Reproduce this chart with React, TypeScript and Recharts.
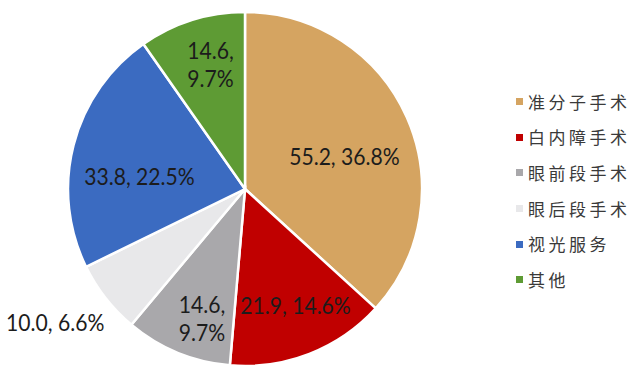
import React from 'react';
import { PieChart, Pie, Cell, Legend } from 'recharts';

const categories = ['准分子手术', '白内障手术', '眼前段手术', '眼后段手术', '视光服务', '其他'];
const values = [55.2, 21.9, 14.6, 10.0, 33.8, 14.6];
const shares = ['36.8%', '14.6%', '9.7%', '6.6%', '22.5%', '9.7%'];
const colors = ['#D5A461', '#C00000', '#A9A8AB', '#E8E8EA', '#3B6BC1', '#5E9B34'];

const data = categories.map((name, i) => ({ name, value: values[i], share: shares[i] }));

// label placement (style): radius ratio and bearing offset in degrees
const labelRadius = [0.59, 0.72, 0.77, 1.31, 0.6, 0.73];
const labelAngleOffset = [6, -2, -4, 3, -8, 2];
const twoLine = [false, false, true, false, false, true];

const RAD = Math.PI / 180;
const FONT = 'Lato, "Open Sans", sans-serif';

const renderLabel = (props: any) => {
  const { cx, cy, midAngle, outerRadius, index } = props;
  const d = data[index];
  const bearing = (90 - midAngle + labelAngleOffset[index]) * RAD;
  const r = outerRadius * labelRadius[index];
  const x = Number(cx) + r * Math.sin(bearing);
  const y = Number(cy) - r * Math.cos(bearing);
  const valueText = d.value.toFixed(1);
  const common = {
    textAnchor: 'middle' as const,
    fontFamily: FONT,
    fontSize: 24,
    fill: '#1c1c1c',
  };
  if (twoLine[index]) {
    return (
      <g transform={`translate(${x},${y}) scale(0.88,1)`}>
        <text x={0} y={-14} dy="0.35em" {...common}>{`${valueText},`}</text>
        <text x={0} y={14} dy="0.35em" {...common}>{d.share}</text>
      </g>
    );
  }
  return (
    <g transform={`translate(${x},${y}) scale(0.88,1)`}>
      <text x={0} y={0} dy="0.35em" {...common}>{`${valueText}, ${d.share}`}</text>
    </g>
  );
};

const renderLegend = () => (
  <div style={{ display: 'flex', flexDirection: 'column' }}>
    {categories.map((name, i) => (
      <div key={name} style={{ display: 'flex', alignItems: 'center', height: 35.6 }}>
        <span style={{ width: 7, height: 7, background: colors[i], display: 'inline-block', marginRight: 5 }} />
        <span
          style={{
            fontFamily: '"Noto Sans CJK SC", sans-serif',
            fontSize: 17,
            letterSpacing: 3.5,
            color: '#3a3a3a',
            lineHeight: '20px',
          }}
        >
          {name}
        </span>
      </div>
    ))}
  </div>
);

export default function App() {
  return (
    <div style={{ position: 'absolute', left: 0, top: 0, width: 640, height: 377, background: '#fff' }}>
      <PieChart width={640} height={377} margin={{ top: 0, right: 0, bottom: 0, left: 0 }}>
        <Pie
          data={data}
          dataKey="value"
          nameKey="name"
          cx={245}
          cy={189}
          outerRadius={177}
          startAngle={90}
          endAngle={-270}
          stroke="#ffffff"
          strokeWidth={2.5}
          labelLine={false}
          label={renderLabel}
          isAnimationActive={false}
        >
          {data.map((d, i) => (
            <Cell key={d.name} fill={colors[i]} />
          ))}
        </Pie>
        <Legend
          content={renderLegend}
          layout="vertical"
          verticalAlign="middle"
          align="right"
          wrapperStyle={{ position: 'absolute', left: 516, top: 84, width: 124 }}
        />
      </PieChart>
    </div>
  );
}
